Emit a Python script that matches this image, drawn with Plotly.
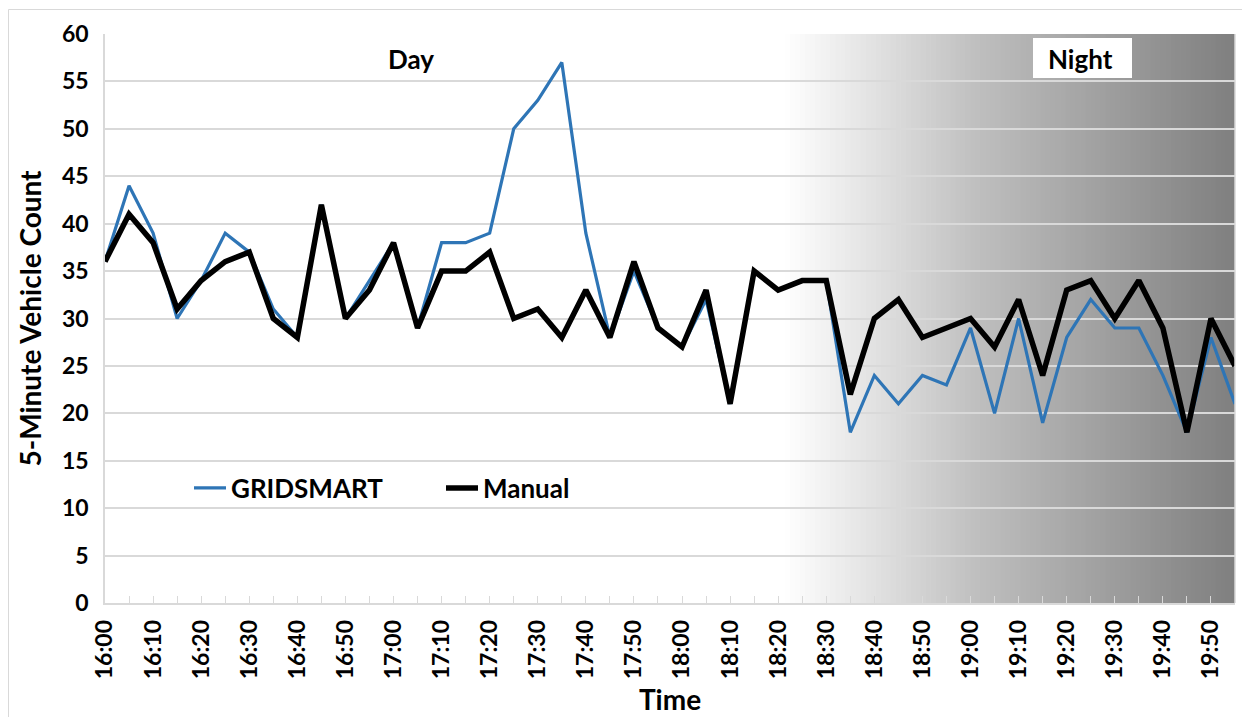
import plotly.graph_objects as go

times = ["16:00","16:05","16:10","16:15","16:20","16:25","16:30","16:35","16:40","16:45",
         "16:50","16:55","17:00","17:05","17:10","17:15","17:20","17:25","17:30","17:35",
         "17:40","17:45","17:50","17:55","18:00","18:05","18:10","18:15","18:20","18:25",
         "18:30","18:35","18:40","18:45","18:50","18:55","19:00","19:05","19:10","19:15",
         "19:20","19:25","19:30","19:35","19:40","19:45","19:50","19:55"]

gridsmart = [36, 44, 39, 30, 34, 39, 37, 31, 28, 42,
             30, 34, 38, 29, 38, 38, 39, 50, 53, 57,
             39, 28, 35, 29, 27, 32, 21, 35, 33, 34,
             34, 18, 24, 21, 24, 23, 29, 20, 30, 19,
             28, 32, 29, 29, 24, 18, 28, 21]

manual = [36, 41, 38, 31, 34, 36, 37, 30, 28, 42,
          30, 33, 38, 29, 35, 35, 37, 30, 31, 28,
          33, 28, 36, 29, 27, 33, 21, 35, 33, 34,
          34, 22, 30, 32, 28, 29, 30, 27, 32, 24,
          33, 34, 30, 34, 29, 18, 30, 25]

tick_text = [t if i % 2 == 0 else "" for i, t in enumerate(times)]

FONT = "Lato"
OFF = 8                      # page body margin
W, H = 1242, 709             # figure size
# plot area in screen pixels
SX0, SX1, SY0, SY1 = 105, 1235, 34, 603
L = SX0 - OFF
T = SY0 - OFF
R = W - (SX1 - OFF)
B = H - (SY1 - OFF)
pw = SX1 - SX0
ph = SY1 - SY0

def px(sx):
    return (sx - SX0) / pw

def py(sy):
    return (SY1 - sy) / ph

fig = go.Figure()
fig.add_trace(go.Scatter(x=times, y=gridsmart, mode="lines", name="<b>GRIDSMART</b>",
                         line=dict(color="#2E75B6", width=3.2)))
fig.add_trace(go.Scatter(x=times, y=manual, mode="lines", name="<b>Manual</b>",
                         line=dict(color="#000000", width=5.5)))

shapes = []
# background gradient (night shading)
stops = [(785, 255), (980, 190), (1236, 127)]
n = 90
x_start, x_end = stops[0][0], stops[-1][0]
step = (x_end - x_start) / n
for i in range(n):
    a = x_start + i * step
    b = a + step + 0.6
    mid = a + step / 2
    if mid <= stops[1][0]:
        f = (mid - stops[0][0]) / (stops[1][0] - stops[0][0])
        c = stops[0][1] + f * (stops[1][1] - stops[0][1])
    else:
        f = (mid - stops[1][0]) / (stops[2][0] - stops[1][0])
        c = stops[1][1] + f * (stops[2][1] - stops[1][1])
    c = int(round(c))
    shapes.append(dict(type="rect", xref="paper", yref="paper", layer="below",
                       x0=px(a), x1=min(px(b), 1.0), y0=0, y1=1,
                       fillcolor=f"rgb({c},{c},{c})", line=dict(width=0)))
# Night label box
shapes.append(dict(type="rect", xref="paper", yref="paper", layer="below",
                   x0=px(1033), x1=px(1132), y0=py(78), y1=py(38),
                   fillcolor="white", line=dict(width=0)))
# plot area right border
shapes.append(dict(type="line", xref="paper", yref="paper", layer="above",
                   x0=1, x1=1, y0=0, y1=1, line=dict(color="#D9D9D9", width=1.5)))
# chart area border
shapes.append(dict(type="rect", xref="paper", yref="paper", layer="above",
                   x0=px(8.5), x1=px(1270), y0=py(740), y1=py(9.5),
                   fillcolor="rgba(0,0,0,0)", line=dict(color="#D9D9D9", width=1)))

annotations = [
    dict(text="<b>Day</b>", xref="paper", yref="paper", x=px(411), y=py(59),
         xanchor="center", yanchor="middle", showarrow=False,
         font=dict(family=FONT, size=26, color="black")),
    dict(text="<b>Night</b>", xref="paper", yref="paper", x=px(1080), y=py(59),
         xanchor="center", yanchor="middle", showarrow=False,
         font=dict(family=FONT, size=26, color="black")),
]

fig.update_layout(
    width=W, height=H,
    margin=dict(l=L, r=R, t=T, b=B),
    paper_bgcolor="white", plot_bgcolor="white",
    font=dict(family=FONT, size=22, color="black"),
    shapes=shapes, annotations=annotations,
    legend=dict(orientation="h", x=px(189), y=py(488),
                xanchor="left", yanchor="middle", bgcolor="rgba(0,0,0,0)",
                font=dict(family=FONT, size=26, color="black"),
                itemwidth=32, entrywidth=205, entrywidthmode="pixels"),
    xaxis=dict(type="category", range=[0, len(times) - 1], automargin=False,
               tickmode="array", tickvals=times,
               ticktext=[f"<b>{t}</b>" if t else "" for t in tick_text],
               tickangle=-90, ticks="inside", ticklen=7, tickcolor="#D9D9D9",
               ticklabelstandoff=6,
               showgrid=False, showline=True, linecolor="#D9D9D9", linewidth=1.5,
               tickfont=dict(family=FONT, size=23, color="black"),
               title=dict(text="<b>Time</b>", font=dict(family=FONT, size=28, color="black"),
                          standoff=12)),
    yaxis=dict(range=[0, 60], dtick=5, showgrid=True, gridcolor="#D9D9D9", gridwidth=1.5,
               automargin=False,
               showline=True, linecolor="#D9D9D9", linewidth=1.5, ticks="",
               zeroline=False, tickprefix="<b>", ticksuffix="</b>",
               ticklabelstandoff=10,
               tickfont=dict(family=FONT, size=23, color="black"),
               title=dict(text="<b>5-Minute Vehicle Count</b>",
                          font=dict(family=FONT, size=28, color="black"),
                          standoff=12)),
)

fig.write_html("out.html")
